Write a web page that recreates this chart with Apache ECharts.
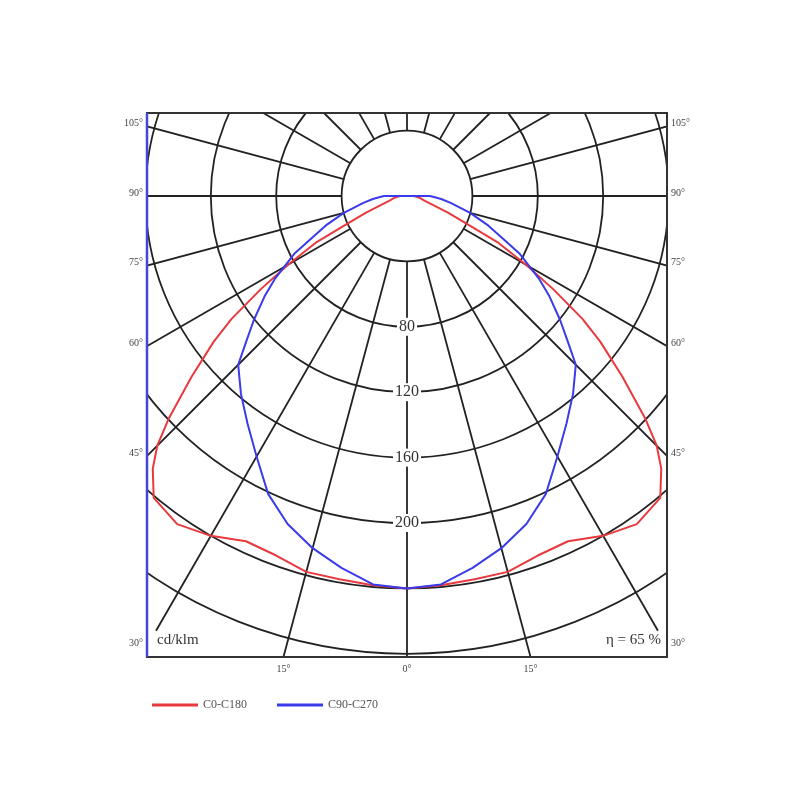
<!DOCTYPE html>
<html><head><meta charset="utf-8">
<script src="https://cdn.jsdelivr.net/npm/echarts@6/dist/echarts.min.js"></script>
<style>html,body{margin:0;padding:0;background:#fff}#c{width:800px;height:800px}</style>
</head><body><div id="c"></div>
<script>
// ---- data (cd/klm vs angle from nadir, degrees) ----
const redName = 'C0-C180';
const redAngles = [0, 5, 10, 15, 20, 25, 30, 35, 40, 43, 45, 47, 50, 53, 55, 57.5, 60, 63, 65, 68, 71, 75, 80, 85, 90];
const redValues = [240, 239, 238, 238, 234, 233, 240, 245, 241, 228, 216, 199, 172, 148, 131, 106, 84, 62, 41, 27, 17, 11, 8.5, 6, 4];
const blueName = 'C90-C270';
const blueAngles = [0, 5, 10, 15, 20, 25, 30, 35, 40, 45, 48, 51, 55, 58, 63, 65, 70, 75, 81, 85, 88, 90];
const blueValues = [240, 238.5, 231, 223, 213.5, 201, 184, 170, 158, 146, 132, 120.5, 106, 95, 77, 68, 53, 40, 27, 21, 16.5, 14];
const ringLabels = [80, 120, 160, 200];
const spokeAngles = [0, 15, 30, 45, 60, 75, 90, 105, 120, 135, 150, 165, 180, 195, 210, 225, 240, 255, 270, 285, 300, 315, 330, 345];
const sideTickAngles = [105, 90, 75, 60, 45, 30];
const bottomTickAngles = [-15, 0, 15];
const unitLabel = 'cd/klm';
const effLabel = 'η = 65 %';

// ---- layout ----
const CX = 407, CY = 196, R_MAX = 320, R_PX = 523.2;
const BOX = {l: 147, t: 113, r: 667, b: 657};
const GRID_COLOR = '#222';
const SERIF = "'Liberation Serif', 'DejaVu Serif', serif";

function curveData(angles, values) {
  const pts = [[0, 180]];
  for (let i = angles.length - 1; i >= 1; i--) pts.push([values[i], 360 - angles[i]]);
  for (let i = 0; i < angles.length; i++) pts.push([values[i], angles[i]]);
  pts.push([0, 180]);
  return pts;
}

const series = spokeAngles.map(a => ({
  type: 'line', coordinateSystem: 'polar', silent: true, symbol: 'none', z: 0,
  data: [[40, a], [307, a]], lineStyle: {color: GRID_COLOR, width: 1.8}, animation: false
}));
series.push({
  name: redName, type: 'line', coordinateSystem: 'polar', symbol: 'none', z: 3,
  data: curveData(redAngles, redValues),
  lineStyle: {color: '#e8393e', width: 2}, itemStyle: {color: '#e8393e'}, animation: false
});
series.push({
  name: blueName, type: 'line', coordinateSystem: 'polar', symbol: 'none', z: 3,
  data: curveData(blueAngles, blueValues),
  lineStyle: {color: '#3b3bea', width: 2}, itemStyle: {color: '#3b3bea'}, animation: false
});

const graphics = [
  {type: 'rect', shape: {x: 0, y: 0, width: 800, height: BOX.t}, style: {fill: '#fff'}, z: 10, silent: true},
  {type: 'rect', shape: {x: 0, y: 0, width: BOX.l, height: 800}, style: {fill: '#fff'}, z: 10, silent: true},
  {type: 'rect', shape: {x: BOX.r, y: 0, width: 800 - BOX.r, height: 800}, style: {fill: '#fff'}, z: 10, silent: true},
  {type: 'rect', shape: {x: 0, y: BOX.b, width: 800, height: 800 - BOX.b}, style: {fill: '#fff'}, z: 10, silent: true},
  {type: 'rect', shape: {x: BOX.l, y: BOX.t, width: BOX.r - BOX.l, height: BOX.b - BOX.t},
   style: {fill: 'none', stroke: '#333', lineWidth: 2}, z: 15, silent: true},
  {type: 'line', shape: {x1: BOX.l, y1: BOX.t, x2: BOX.l, y2: BOX.b},
   style: {stroke: '#4646d6', lineWidth: 2.5}, z: 16, silent: true},
  {type: 'text', x: BOX.l + 10, y: BOX.b - 17, z: 20, silent: true,
   style: {text: unitLabel, font: "15px " + SERIF, fill: '#333', textVerticalAlign: 'middle'}},
  {type: 'text', x: BOX.r - 6, y: BOX.b - 17, z: 20, silent: true,
   style: {text: effLabel, font: "15px " + SERIF, fill: '#333', textAlign: 'right', textVerticalAlign: 'middle'}}
];
const halfW = CX - BOX.l;
sideTickAngles.forEach(a => {
  const rad = a * Math.PI / 180;
  const y = CY + halfW * Math.cos(rad) / Math.sin(rad) - 3;
  graphics.push({type: 'text', x: BOX.l - 4, y: y, z: 20, silent: true,
    style: {text: a + '°', font: "10px " + SERIF, fill: '#444', textAlign: 'right', textVerticalAlign: 'middle'}});
  graphics.push({type: 'text', x: BOX.r + 4, y: y, z: 20, silent: true,
    style: {text: a + '°', font: "10px " + SERIF, fill: '#444', textAlign: 'left', textVerticalAlign: 'middle'}});
});
bottomTickAngles.forEach(a => {
  const rad = a * Math.PI / 180;
  const x = CX + (BOX.b - CY) * Math.tan(rad);
  graphics.push({type: 'text', x: x, y: BOX.b + 12, z: 20, silent: true,
    style: {text: Math.abs(a) + '°', font: "10px " + SERIF, fill: '#444', textAlign: 'center', textVerticalAlign: 'middle'}});
});

// ring colours: every ring visible except the outermost (radius max)
const ringColors = [];
for (let v = 0; v <= R_MAX; v += 40) ringColors.push(v === R_MAX ? 'rgba(0,0,0,0)' : GRID_COLOR);

const chart = echarts.init(document.getElementById('c'), null, {renderer: 'canvas'});
chart.setOption({
  backgroundColor: '#fff',
  animation: false,
  polar: {center: [CX, CY], radius: R_PX},
  angleAxis: {
    type: 'value', min: 0, max: 360, startAngle: -90, clockwise: false,
    axisLine: {show: false}, axisTick: {show: false}, axisLabel: {show: false}, splitLine: {show: false}
  },
  radiusAxis: {
    type: 'value', min: 0, max: R_MAX, interval: 40, z: 1,
    axisLine: {show: false}, axisTick: {show: false},
    splitLine: {show: true, lineStyle: {color: ringColors, width: 1.8}},
    axisLabel: {
      show: true, margin: 0, align: 'center', verticalAlign: 'middle',
      formatter: v => ringLabels.includes(v) ? '{b|' + v + '}' : '',
      rich: {b: {backgroundColor: '#fff', padding: [1, 2], fontFamily: SERIF, fontSize: 16, color: '#333'}}
    }
  },
  legend: {
    data: [redName, blueName], left: BOX.l, top: 694, z: 20,
    icon: 'rect', itemWidth: 46, itemHeight: 3, itemGap: 30,
    textStyle: {fontFamily: SERIF, fontSize: 12, color: '#555'}
  },
  graphic: graphics,
  series: series
});
</script></body></html>
